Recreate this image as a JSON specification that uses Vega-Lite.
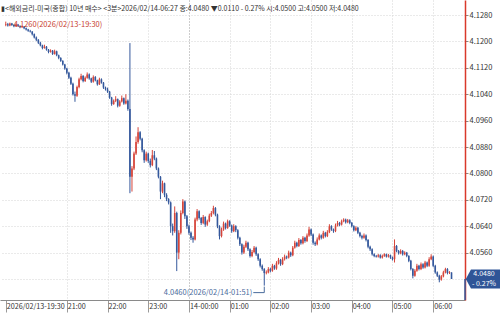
{
"$schema": "https://vega.github.io/schema/vega-lite/v6.json",
"width": 465, "height": 300,
"autosize": {"type": "none"},
"padding": {"left": 0, "top": 0, "right": 35, "bottom": 14},
"background": "white",
"config": {"view": {"stroke": null}, "font": "Noto Sans CJK KR",
  "axis": {"labelFont": "Noto Sans CJK KR", "labelFontSize": 7.5, "labelColor": "#333", "labelOverlap": false, "labelBound": false}},
"title": {"text": "▮<해외금리-미국(종합) 10년 매수> <3분>2026/02/14-06:27 종:4.0480 ▼0.0110 - 0.27% 시:4.0500 고:4.0500 저:4.0480",
  "anchor": "start", "frame": "group", "fontSize": 7, "fontWeight": "normal", "color": "#333", "baseline": "top", "offset": 0, "dy": 12, "dx": 1, "font": "Noto Sans CJK KR"},
"datasets": {
"bars": [
{"t":"2026-02-13T19:30","o":4.1250,"h":4.1260,"l":4.1246,"c":4.1252},
{"t":"2026-02-13T19:33","o":4.1252,"h":4.1256,"l":4.1245,"c":4.1248},
{"t":"2026-02-13T19:36","o":4.1248,"h":4.1257,"l":4.1246,"c":4.1254},
{"t":"2026-02-13T19:39","o":4.1254,"h":4.1256,"l":4.1247,"c":4.1250},
{"t":"2026-02-13T19:42","o":4.1250,"h":4.1252,"l":4.1243,"c":4.1246},
{"t":"2026-02-13T19:45","o":4.1246,"h":4.1254,"l":4.1244,"c":4.1251},
{"t":"2026-02-13T19:48","o":4.1251,"h":4.1253,"l":4.1244,"c":4.1247},
{"t":"2026-02-13T19:51","o":4.1247,"h":4.1249,"l":4.1240,"c":4.1243},
{"t":"2026-02-13T19:54","o":4.1243,"h":4.1248,"l":4.1241,"c":4.1245},
{"t":"2026-02-13T19:57","o":4.1245,"h":4.1246,"l":4.1237,"c":4.1240},
{"t":"2026-02-13T20:00","o":4.1240,"h":4.1242,"l":4.1233,"c":4.1236},
{"t":"2026-02-13T20:03","o":4.1236,"h":4.1238,"l":4.1229,"c":4.1232},
{"t":"2026-02-13T20:06","o":4.1232,"h":4.1235,"l":4.1227,"c":4.1230},
{"t":"2026-02-13T20:09","o":4.1230,"h":4.1231,"l":4.1218,"c":4.1222},
{"t":"2026-02-13T20:12","o":4.1222,"h":4.1224,"l":4.1209,"c":4.1212},
{"t":"2026-02-13T20:15","o":4.1212,"h":4.1215,"l":4.1201,"c":4.1205},
{"t":"2026-02-13T20:18","o":4.1205,"h":4.1207,"l":4.1192,"c":4.1196},
{"t":"2026-02-13T20:21","o":4.1196,"h":4.1199,"l":4.1185,"c":4.1188},
{"t":"2026-02-13T20:24","o":4.1188,"h":4.1190,"l":4.1176,"c":4.1180},
{"t":"2026-02-13T20:27","o":4.1180,"h":4.1190,"l":4.1178,"c":4.1184},
{"t":"2026-02-13T20:30","o":4.1184,"h":4.1186,"l":4.1172,"c":4.1175},
{"t":"2026-02-13T20:33","o":4.1175,"h":4.1177,"l":4.1164,"c":4.1168},
{"t":"2026-02-13T20:36","o":4.1168,"h":4.1176,"l":4.1166,"c":4.1172},
{"t":"2026-02-13T20:39","o":4.1172,"h":4.1174,"l":4.1159,"c":4.1162},
{"t":"2026-02-13T20:42","o":4.1162,"h":4.1175,"l":4.1160,"c":4.1170},
{"t":"2026-02-13T20:45","o":4.1170,"h":4.1172,"l":4.1155,"c":4.1158},
{"t":"2026-02-13T20:48","o":4.1158,"h":4.1160,"l":4.1146,"c":4.1150},
{"t":"2026-02-13T20:51","o":4.1150,"h":4.1152,"l":4.1138,"c":4.1141},
{"t":"2026-02-13T20:54","o":4.1141,"h":4.1143,"l":4.1127,"c":4.1130},
{"t":"2026-02-13T20:57","o":4.1130,"h":4.1132,"l":4.1114,"c":4.1118},
{"t":"2026-02-13T21:00","o":4.1118,"h":4.1120,"l":4.1100,"c":4.1105},
{"t":"2026-02-13T21:03","o":4.1105,"h":4.1108,"l":4.1086,"c":4.1090},
{"t":"2026-02-13T21:06","o":4.1090,"h":4.1093,"l":4.1068,"c":4.1072},
{"t":"2026-02-13T21:09","o":4.1072,"h":4.1075,"l":4.1036,"c":4.1040},
{"t":"2026-02-13T21:12","o":4.1040,"h":4.1048,"l":4.1017,"c":4.1035},
{"t":"2026-02-13T21:15","o":4.1035,"h":4.1066,"l":4.1032,"c":4.1062},
{"t":"2026-02-13T21:18","o":4.1062,"h":4.1090,"l":4.1058,"c":4.1085},
{"t":"2026-02-13T21:21","o":4.1085,"h":4.1102,"l":4.1082,"c":4.1095},
{"t":"2026-02-13T21:24","o":4.1095,"h":4.1098,"l":4.1076,"c":4.1080},
{"t":"2026-02-13T21:27","o":4.1080,"h":4.1094,"l":4.1077,"c":4.1090},
{"t":"2026-02-13T21:30","o":4.1090,"h":4.1106,"l":4.1087,"c":4.1100},
{"t":"2026-02-13T21:33","o":4.1100,"h":4.1103,"l":4.1084,"c":4.1088},
{"t":"2026-02-13T21:36","o":4.1088,"h":4.1090,"l":4.1074,"c":4.1078},
{"t":"2026-02-13T21:39","o":4.1078,"h":4.1097,"l":4.1075,"c":4.1092},
{"t":"2026-02-13T21:42","o":4.1092,"h":4.1095,"l":4.1079,"c":4.1082},
{"t":"2026-02-13T21:45","o":4.1082,"h":4.1084,"l":4.1066,"c":4.1070},
{"t":"2026-02-13T21:48","o":4.1070,"h":4.1090,"l":4.1068,"c":4.1085},
{"t":"2026-02-13T21:51","o":4.1085,"h":4.1088,"l":4.1072,"c":4.1075},
{"t":"2026-02-13T21:54","o":4.1075,"h":4.1077,"l":4.1056,"c":4.1060},
{"t":"2026-02-13T21:57","o":4.1060,"h":4.1063,"l":4.1051,"c":4.1055},
{"t":"2026-02-13T22:00","o":4.1055,"h":4.1060,"l":4.1044,"c":4.1048},
{"t":"2026-02-13T22:03","o":4.1048,"h":4.1050,"l":4.1026,"c":4.1030},
{"t":"2026-02-13T22:06","o":4.1030,"h":4.1032,"l":4.1005,"c":4.1010},
{"t":"2026-02-13T22:09","o":4.1010,"h":4.1024,"l":4.1008,"c":4.1020},
{"t":"2026-02-13T22:12","o":4.1020,"h":4.1034,"l":4.1016,"c":4.1025},
{"t":"2026-02-13T22:15","o":4.1025,"h":4.1027,"l":4.1000,"c":4.1005},
{"t":"2026-02-13T22:18","o":4.1005,"h":4.1022,"l":4.1002,"c":4.1018},
{"t":"2026-02-13T22:21","o":4.1018,"h":4.1036,"l":4.1015,"c":4.1028},
{"t":"2026-02-13T22:24","o":4.1028,"h":4.1030,"l":4.1008,"c":4.1012},
{"t":"2026-02-13T22:27","o":4.1012,"h":4.1040,"l":4.1009,"c":4.1020},
{"t":"2026-02-13T22:30","o":4.1020,"h":4.1024,"l":4.0990,"c":4.0995},
{"t":"2026-02-13T22:33","o":4.0995,"h":4.1195,"l":4.0740,"c":4.0790},
{"t":"2026-02-13T22:36","o":4.0790,"h":4.0822,"l":4.0745,"c":4.0815},
{"t":"2026-02-13T22:39","o":4.0815,"h":4.0866,"l":4.0810,"c":4.0860},
{"t":"2026-02-13T22:42","o":4.0860,"h":4.0912,"l":4.0856,"c":4.0895},
{"t":"2026-02-13T22:45","o":4.0895,"h":4.0940,"l":4.0890,"c":4.0925},
{"t":"2026-02-13T22:48","o":4.0925,"h":4.0928,"l":4.0900,"c":4.0905},
{"t":"2026-02-13T22:51","o":4.0905,"h":4.0908,"l":4.0864,"c":4.0870},
{"t":"2026-02-13T22:54","o":4.0870,"h":4.0873,"l":4.0832,"c":4.0840},
{"t":"2026-02-13T22:57","o":4.0840,"h":4.0866,"l":4.0836,"c":4.0860},
{"t":"2026-02-13T23:00","o":4.0860,"h":4.0863,"l":4.0832,"c":4.0838},
{"t":"2026-02-13T23:03","o":4.0838,"h":4.0845,"l":4.0818,"c":4.0825},
{"t":"2026-02-13T23:06","o":4.0825,"h":4.0871,"l":4.0822,"c":4.0855},
{"t":"2026-02-13T23:09","o":4.0855,"h":4.0868,"l":4.0840,"c":4.0845},
{"t":"2026-02-13T23:12","o":4.0845,"h":4.0848,"l":4.0810,"c":4.0815},
{"t":"2026-02-13T23:15","o":4.0815,"h":4.0818,"l":4.0785,"c":4.0790},
{"t":"2026-02-13T23:18","o":4.0790,"h":4.0792,"l":4.0722,"c":4.0745},
{"t":"2026-02-13T23:21","o":4.0745,"h":4.0778,"l":4.0740,"c":4.0770},
{"t":"2026-02-13T23:24","o":4.0770,"h":4.0772,"l":4.0728,"c":4.0735},
{"t":"2026-02-13T23:27","o":4.0735,"h":4.0740,"l":4.0716,"c":4.0722},
{"t":"2026-02-13T23:30","o":4.0722,"h":4.0725,"l":4.0706,"c":4.0712},
{"t":"2026-02-13T23:33","o":4.0712,"h":4.0715,"l":4.0620,"c":4.0640},
{"t":"2026-02-13T23:36","o":4.0640,"h":4.0648,"l":4.0612,"c":4.0625},
{"t":"2026-02-13T23:39","o":4.0625,"h":4.0700,"l":4.0620,"c":4.0680},
{"t":"2026-02-13T23:42","o":4.0680,"h":4.0684,"l":4.0504,"c":4.0560},
{"t":"2026-02-13T23:45","o":4.0560,"h":4.0628,"l":4.0540,"c":4.0620},
{"t":"2026-02-13T23:48","o":4.0620,"h":4.0688,"l":4.0615,"c":4.0680},
{"t":"2026-02-13T23:51","o":4.0680,"h":4.0722,"l":4.0676,"c":4.0715},
{"t":"2026-02-13T23:54","o":4.0715,"h":4.0718,"l":4.0662,"c":4.0670},
{"t":"2026-02-13T23:57","o":4.0670,"h":4.0674,"l":4.0632,"c":4.0640},
{"t":"2026-02-14T00:00","o":4.0640,"h":4.0645,"l":4.0614,"c":4.0620},
{"t":"2026-02-14T00:03","o":4.0620,"h":4.0624,"l":4.0598,"c":4.0605},
{"t":"2026-02-14T00:06","o":4.0605,"h":4.0610,"l":4.0590,"c":4.0600},
{"t":"2026-02-14T00:09","o":4.0600,"h":4.0666,"l":4.0597,"c":4.0660},
{"t":"2026-02-14T00:12","o":4.0660,"h":4.0692,"l":4.0655,"c":4.0685},
{"t":"2026-02-14T00:15","o":4.0685,"h":4.0688,"l":4.0660,"c":4.0665},
{"t":"2026-02-14T00:18","o":4.0665,"h":4.0668,"l":4.0644,"c":4.0650},
{"t":"2026-02-14T00:21","o":4.0650,"h":4.0674,"l":4.0646,"c":4.0668},
{"t":"2026-02-14T00:24","o":4.0668,"h":4.0670,"l":4.0638,"c":4.0645},
{"t":"2026-02-14T00:27","o":4.0645,"h":4.0660,"l":4.0641,"c":4.0655},
{"t":"2026-02-14T00:30","o":4.0655,"h":4.0678,"l":4.0652,"c":4.0672},
{"t":"2026-02-14T00:33","o":4.0672,"h":4.0686,"l":4.0668,"c":4.0680},
{"t":"2026-02-14T00:36","o":4.0680,"h":4.0702,"l":4.0676,"c":4.0695},
{"t":"2026-02-14T00:39","o":4.0695,"h":4.0698,"l":4.0670,"c":4.0675},
{"t":"2026-02-14T00:42","o":4.0675,"h":4.0678,"l":4.0634,"c":4.0640},
{"t":"2026-02-14T00:45","o":4.0640,"h":4.0643,"l":4.0600,"c":4.0610},
{"t":"2026-02-14T00:48","o":4.0610,"h":4.0636,"l":4.0606,"c":4.0630},
{"t":"2026-02-14T00:51","o":4.0630,"h":4.0654,"l":4.0626,"c":4.0648},
{"t":"2026-02-14T00:54","o":4.0648,"h":4.0651,"l":4.0630,"c":4.0635},
{"t":"2026-02-14T00:57","o":4.0635,"h":4.0660,"l":4.0632,"c":4.0655},
{"t":"2026-02-14T01:00","o":4.0655,"h":4.0658,"l":4.0638,"c":4.0642},
{"t":"2026-02-14T01:03","o":4.0642,"h":4.0645,"l":4.0620,"c":4.0625},
{"t":"2026-02-14T01:06","o":4.0625,"h":4.0646,"l":4.0622,"c":4.0640},
{"t":"2026-02-14T01:09","o":4.0640,"h":4.0643,"l":4.0622,"c":4.0628},
{"t":"2026-02-14T01:12","o":4.0628,"h":4.0631,"l":4.0600,"c":4.0605},
{"t":"2026-02-14T01:15","o":4.0605,"h":4.0608,"l":4.0580,"c":4.0585},
{"t":"2026-02-14T01:18","o":4.0585,"h":4.0588,"l":4.0554,"c":4.0560},
{"t":"2026-02-14T01:21","o":4.0560,"h":4.0584,"l":4.0556,"c":4.0578},
{"t":"2026-02-14T01:24","o":4.0578,"h":4.0596,"l":4.0574,"c":4.0590},
{"t":"2026-02-14T01:27","o":4.0590,"h":4.0593,"l":4.0565,"c":4.0570},
{"t":"2026-02-14T01:30","o":4.0570,"h":4.0573,"l":4.0545,"c":4.0550},
{"t":"2026-02-14T01:33","o":4.0550,"h":4.0568,"l":4.0546,"c":4.0562},
{"t":"2026-02-14T01:36","o":4.0562,"h":4.0580,"l":4.0558,"c":4.0575},
{"t":"2026-02-14T01:39","o":4.0575,"h":4.0578,"l":4.0550,"c":4.0555},
{"t":"2026-02-14T01:42","o":4.0555,"h":4.0558,"l":4.0535,"c":4.0540},
{"t":"2026-02-14T01:45","o":4.0540,"h":4.0543,"l":4.0515,"c":4.0520},
{"t":"2026-02-14T01:48","o":4.0520,"h":4.0524,"l":4.0505,"c":4.0510},
{"t":"2026-02-14T01:51","o":4.0510,"h":4.0513,"l":4.0460,"c":4.0498},
{"t":"2026-02-14T01:54","o":4.0498,"h":4.0506,"l":4.0494,"c":4.0500},
{"t":"2026-02-14T01:57","o":4.0500,"h":4.0516,"l":4.0497,"c":4.0510},
{"t":"2026-02-14T02:00","o":4.0510,"h":4.0514,"l":4.0500,"c":4.0505},
{"t":"2026-02-14T02:03","o":4.0505,"h":4.0526,"l":4.0502,"c":4.0520},
{"t":"2026-02-14T02:06","o":4.0520,"h":4.0523,"l":4.0508,"c":4.0512},
{"t":"2026-02-14T02:09","o":4.0512,"h":4.0534,"l":4.0508,"c":4.0528},
{"t":"2026-02-14T02:12","o":4.0528,"h":4.0544,"l":4.0524,"c":4.0538},
{"t":"2026-02-14T02:15","o":4.0538,"h":4.0541,"l":4.0520,"c":4.0525},
{"t":"2026-02-14T02:18","o":4.0525,"h":4.0546,"l":4.0522,"c":4.0540},
{"t":"2026-02-14T02:21","o":4.0540,"h":4.0554,"l":4.0536,"c":4.0548},
{"t":"2026-02-14T02:24","o":4.0548,"h":4.0551,"l":4.0540,"c":4.0545},
{"t":"2026-02-14T02:27","o":4.0545,"h":4.0566,"l":4.0542,"c":4.0560},
{"t":"2026-02-14T02:30","o":4.0560,"h":4.0563,"l":4.0547,"c":4.0552},
{"t":"2026-02-14T02:33","o":4.0552,"h":4.0580,"l":4.0549,"c":4.0575},
{"t":"2026-02-14T02:36","o":4.0575,"h":4.0596,"l":4.0572,"c":4.0590},
{"t":"2026-02-14T02:39","o":4.0590,"h":4.0593,"l":4.0576,"c":4.0580},
{"t":"2026-02-14T02:42","o":4.0580,"h":4.0604,"l":4.0577,"c":4.0598},
{"t":"2026-02-14T02:45","o":4.0598,"h":4.0601,"l":4.0584,"c":4.0588},
{"t":"2026-02-14T02:48","o":4.0588,"h":4.0610,"l":4.0585,"c":4.0605},
{"t":"2026-02-14T02:51","o":4.0605,"h":4.0608,"l":4.0590,"c":4.0595},
{"t":"2026-02-14T02:54","o":4.0595,"h":4.0618,"l":4.0592,"c":4.0612},
{"t":"2026-02-14T02:57","o":4.0612,"h":4.0638,"l":4.0608,"c":4.0630},
{"t":"2026-02-14T03:00","o":4.0630,"h":4.0633,"l":4.0610,"c":4.0615},
{"t":"2026-02-14T03:03","o":4.0615,"h":4.0618,"l":4.0584,"c":4.0590},
{"t":"2026-02-14T03:06","o":4.0590,"h":4.0594,"l":4.0580,"c":4.0585},
{"t":"2026-02-14T03:09","o":4.0585,"h":4.0606,"l":4.0582,"c":4.0600},
{"t":"2026-02-14T03:12","o":4.0600,"h":4.0618,"l":4.0597,"c":4.0612},
{"t":"2026-02-14T03:15","o":4.0612,"h":4.0615,"l":4.0600,"c":4.0605},
{"t":"2026-02-14T03:18","o":4.0605,"h":4.0626,"l":4.0602,"c":4.0620},
{"t":"2026-02-14T03:21","o":4.0620,"h":4.0623,"l":4.0606,"c":4.0610},
{"t":"2026-02-14T03:24","o":4.0610,"h":4.0628,"l":4.0607,"c":4.0622},
{"t":"2026-02-14T03:27","o":4.0622,"h":4.0646,"l":4.0619,"c":4.0640},
{"t":"2026-02-14T03:30","o":4.0640,"h":4.0643,"l":4.0626,"c":4.0630},
{"t":"2026-02-14T03:33","o":4.0630,"h":4.0633,"l":4.0620,"c":4.0625},
{"t":"2026-02-14T03:36","o":4.0625,"h":4.0648,"l":4.0622,"c":4.0642},
{"t":"2026-02-14T03:39","o":4.0642,"h":4.0656,"l":4.0639,"c":4.0650},
{"t":"2026-02-14T03:42","o":4.0650,"h":4.0653,"l":4.0640,"c":4.0645},
{"t":"2026-02-14T03:45","o":4.0645,"h":4.0660,"l":4.0642,"c":4.0655},
{"t":"2026-02-14T03:48","o":4.0655,"h":4.0664,"l":4.0652,"c":4.0660},
{"t":"2026-02-14T03:51","o":4.0660,"h":4.0663,"l":4.0648,"c":4.0652},
{"t":"2026-02-14T03:54","o":4.0652,"h":4.0662,"l":4.0649,"c":4.0658},
{"t":"2026-02-14T03:57","o":4.0658,"h":4.0661,"l":4.0646,"c":4.0650},
{"t":"2026-02-14T04:00","o":4.0650,"h":4.0653,"l":4.0636,"c":4.0640},
{"t":"2026-02-14T04:03","o":4.0640,"h":4.0643,"l":4.0624,"c":4.0628},
{"t":"2026-02-14T04:06","o":4.0628,"h":4.0640,"l":4.0625,"c":4.0635},
{"t":"2026-02-14T04:09","o":4.0635,"h":4.0638,"l":4.0616,"c":4.0620},
{"t":"2026-02-14T04:12","o":4.0620,"h":4.0623,"l":4.0606,"c":4.0610},
{"t":"2026-02-14T04:15","o":4.0610,"h":4.0614,"l":4.0600,"c":4.0605},
{"t":"2026-02-14T04:18","o":4.0605,"h":4.0618,"l":4.0602,"c":4.0612},
{"t":"2026-02-14T04:21","o":4.0612,"h":4.0615,"l":4.0594,"c":4.0598},
{"t":"2026-02-14T04:24","o":4.0598,"h":4.0601,"l":4.0573,"c":4.0578},
{"t":"2026-02-14T04:27","o":4.0578,"h":4.0581,"l":4.0565,"c":4.0570},
{"t":"2026-02-14T04:30","o":4.0570,"h":4.0573,"l":4.0551,"c":4.0555},
{"t":"2026-02-14T04:33","o":4.0555,"h":4.0558,"l":4.0546,"c":4.0550},
{"t":"2026-02-14T04:36","o":4.0550,"h":4.0553,"l":4.0545,"c":4.0548},
{"t":"2026-02-14T04:39","o":4.0548,"h":4.0556,"l":4.0545,"c":4.0552},
{"t":"2026-02-14T04:42","o":4.0552,"h":4.0555,"l":4.0542,"c":4.0545},
{"t":"2026-02-14T04:45","o":4.0545,"h":4.0554,"l":4.0542,"c":4.0550},
{"t":"2026-02-14T04:48","o":4.0550,"h":4.0558,"l":4.0547,"c":4.0555},
{"t":"2026-02-14T04:51","o":4.0555,"h":4.0557,"l":4.0545,"c":4.0548},
{"t":"2026-02-14T04:54","o":4.0548,"h":4.0556,"l":4.0545,"c":4.0552},
{"t":"2026-02-14T04:57","o":4.0552,"h":4.0554,"l":4.0541,"c":4.0545},
{"t":"2026-02-14T05:00","o":4.0545,"h":4.0548,"l":4.0536,"c":4.0540},
{"t":"2026-02-14T05:03","o":4.0540,"h":4.0600,"l":4.0530,"c":4.0580},
{"t":"2026-02-14T05:06","o":4.0580,"h":4.0583,"l":4.0561,"c":4.0565},
{"t":"2026-02-14T05:09","o":4.0565,"h":4.0568,"l":4.0554,"c":4.0558},
{"t":"2026-02-14T05:12","o":4.0558,"h":4.0570,"l":4.0555,"c":4.0565},
{"t":"2026-02-14T05:15","o":4.0565,"h":4.0568,"l":4.0551,"c":4.0555},
{"t":"2026-02-14T05:18","o":4.0555,"h":4.0564,"l":4.0552,"c":4.0560},
{"t":"2026-02-14T05:21","o":4.0560,"h":4.0562,"l":4.0546,"c":4.0550},
{"t":"2026-02-14T05:24","o":4.0550,"h":4.0552,"l":4.0531,"c":4.0535},
{"t":"2026-02-14T05:27","o":4.0535,"h":4.0538,"l":4.0506,"c":4.0510},
{"t":"2026-02-14T05:30","o":4.0510,"h":4.0513,"l":4.0482,"c":4.0490},
{"t":"2026-02-14T05:33","o":4.0490,"h":4.0510,"l":4.0487,"c":4.0505},
{"t":"2026-02-14T05:36","o":4.0505,"h":4.0526,"l":4.0502,"c":4.0520},
{"t":"2026-02-14T05:39","o":4.0520,"h":4.0523,"l":4.0506,"c":4.0510},
{"t":"2026-02-14T05:42","o":4.0510,"h":4.0530,"l":4.0507,"c":4.0525},
{"t":"2026-02-14T05:45","o":4.0525,"h":4.0528,"l":4.0511,"c":4.0515},
{"t":"2026-02-14T05:48","o":4.0515,"h":4.0535,"l":4.0512,"c":4.0530},
{"t":"2026-02-14T05:51","o":4.0530,"h":4.0533,"l":4.0516,"c":4.0520},
{"t":"2026-02-14T05:54","o":4.0520,"h":4.0546,"l":4.0517,"c":4.0540},
{"t":"2026-02-14T05:57","o":4.0540,"h":4.0555,"l":4.0537,"c":4.0548},
{"t":"2026-02-14T06:00","o":4.0548,"h":4.0551,"l":4.0516,"c":4.0520},
{"t":"2026-02-14T06:03","o":4.0520,"h":4.0523,"l":4.0496,"c":4.0500},
{"t":"2026-02-14T06:06","o":4.0500,"h":4.0503,"l":4.0486,"c":4.0490},
{"t":"2026-02-14T06:09","o":4.0490,"h":4.0493,"l":4.0470,"c":4.0478},
{"t":"2026-02-14T06:12","o":4.0478,"h":4.0492,"l":4.0475,"c":4.0488},
{"t":"2026-02-14T06:15","o":4.0488,"h":4.0505,"l":4.0485,"c":4.0500},
{"t":"2026-02-14T06:18","o":4.0500,"h":4.0514,"l":4.0497,"c":4.0510},
{"t":"2026-02-14T06:21","o":4.0510,"h":4.0513,"l":4.0494,"c":4.0498},
{"t":"2026-02-14T06:24","o":4.0498,"h":4.0504,"l":4.0495,"c":4.0500},
{"t":"2026-02-14T06:27","o":4.0500,"h":4.0500,"l":4.0480,"c":4.0480}
],
"last": [{"c": 4.0480, "pct": "- 0.27%"}]
},
"layer": [
{
 "data": {"name": "bars"},
 "mark": {"type": "rule", "strokeWidth": 1},
 "encoding": {
  "x": {"field": "t", "type": "temporal",
   "scale": {"domain": [{"year":2026,"month":2,"date":13,"hours":19,"minutes":28,"seconds":51},{"year":2026,"month":2,"date":14,"hours":6,"minutes":39,"seconds":30}]},
   "axis": {"title": null, "tickCount": 30,
    "values": [{"year":2026,"month":2,"date":13,"hours":19,"minutes":30},{"year":2026,"month":2,"date":13,"hours":21},{"year":2026,"month":2,"date":13,"hours":22},{"year":2026,"month":2,"date":13,"hours":23},{"year":2026,"month":2,"date":14,"hours":0},{"year":2026,"month":2,"date":14,"hours":1},{"year":2026,"month":2,"date":14,"hours":2},{"year":2026,"month":2,"date":14,"hours":3},{"year":2026,"month":2,"date":14,"hours":4},{"year":2026,"month":2,"date":14,"hours":5},{"year":2026,"month":2,"date":14,"hours":6}],
    "labelExpr": "timeFormat(datum.value,'%H:%M')=='19:30' ? '2026/02/13-19:30' : (timeFormat(datum.value,'%H:%M')=='00:00' ? '14-00:00' : timeFormat(datum.value,'%H:%M'))",
    "labelAlign": "left", "labelOffset": 0.5, "labelBaseline": "top", "labelPadding": -10, "labelFlush": false, "labelOverlap": false, "labelFontSize": 7.2,
    "tickSize": 12, "tickColor": "#9a9a9a", "domainColor": "#8a8a8a",
    "grid": true, "gridDash": [1, 2],
    "gridColor": {"condition": {"test": "timeFormat(datum.value,'%H')=='00'", "value": "#9a9a9a"}, "value": "#d4d4d4"},
    "gridOpacity": {"condition": {"test": "timeFormat(datum.value,'%H:%M')=='19:30'", "value": 0}, "value": 1}}},
  "y": {"field": "l", "type": "quantitative",
   "scale": {"domain": [4.04164, 4.13255], "nice": false, "zero": false},
   "axis": {"title": null, "orient": "right", "tickCount": 30,
    "values": [4.128, 4.12, 4.112, 4.104, 4.096, 4.088, 4.08, 4.072, 4.064, 4.056, 4.048],
    "format": ".4f", "labelExpr": "datum.value < 4.05 ? '' : datum.label", "labelOverlap": false, "labelBound": false,
    "tickSize": 3, "tickColor": "#888", "labelPadding": 1, "labelBaseline": "middle",
    "domainColor": "#d9392b", "domainWidth": 1.5,
    "grid": true, "gridDash": [1, 2], "gridColor": "#d4d4d4"}},
  "y2": {"field": "h"},
  "color": {"condition": {"test": "datum.c >= datum.o", "value": "#d6453a"}, "value": "#34589c"}
 }
},
{
 "data": {"name": "bars"},
 "mark": {"type": "bar", "width": 1.6},
 "encoding": {
  "x": {"field": "t", "type": "temporal"},
  "y": {"field": "o", "type": "quantitative"},
  "y2": {"field": "c"},
  "color": {"condition": {"test": "datum.c >= datum.o", "value": "#d6453a"}, "value": "#34589c"}
 }
},
{
 "data": {"values": [{"t": "2026-02-13T19:30", "p": 4.1260, "label": "4.1260(2026/02/13-19:30)"}]},
 "mark": {"type": "text", "align": "left", "baseline": "middle", "dx": 8, "dy": 3, "fontSize": 7.5, "color": "#c8412f"},
 "encoding": {"x": {"field": "t", "type": "temporal"}, "y": {"field": "p", "type": "quantitative"}, "text": {"field": "label"}}
},
{
 "data": {"values": [{"t": "2026-02-14T01:51", "p": 4.0460, "label": "4.0460(2026/02/14-01:51)"}]},
 "layer": [
  {"mark": {"type": "text", "align": "right", "baseline": "middle", "dx": -12, "dy": 7, "fontSize": 7.5, "color": "#4a6b9c"},
   "encoding": {"x": {"field": "t", "type": "temporal"}, "y": {"field": "p", "type": "quantitative"}, "text": {"field": "label"}}},
  {"mark": {"type": "rule", "color": "#4a6b9c", "xOffset": -11, "x2Offset": 0, "yOffset": 7, "strokeWidth": 1},
   "encoding": {"x": {"field": "t", "type": "temporal"}, "x2": {"field": "t"}, "y": {"field": "p", "type": "quantitative"}}},
  {"mark": {"type": "rule", "color": "#4a6b9c", "yOffset": 7, "y2Offset": 1, "strokeWidth": 1},
   "encoding": {"x": {"field": "t", "type": "temporal"}, "y": {"field": "p", "type": "quantitative"}, "y2": {"field": "p"}}}
 ]
},
{
 "data": {"name": "last"},
 "layer": [
  {"mark": {"type": "rule", "color": "#34589c", "strokeWidth": 1.5},
   "encoding": {"x": {"value": "width"}, "y": {"field": "c", "type": "quantitative"}, "y2": {"value": "height"}}},
  {"mark": {"type": "point", "filled": true, "opacity": 1, "color": "#2f5597", "shape": "M0.05,0L0.35,-0.56L2.1,-0.56L2.1,0.56L0.35,0.56Z", "size": 1156, "clip": false},
   "encoding": {"x": {"value": "width"}, "y": {"field": "c", "type": "quantitative"}}},
  {"mark": {"type": "text", "align": "center", "baseline": "middle", "dx": 19, "dy": -4.6, "fontSize": 7, "color": "white"},
   "encoding": {"x": {"value": "width"}, "y": {"field": "c", "type": "quantitative"}, "text": {"field": "c", "format": ".4f"}}},
  {"mark": {"type": "text", "align": "center", "baseline": "middle", "dx": 19, "dy": 4.6, "fontSize": 7, "color": "white"},
   "encoding": {"x": {"value": "width"}, "y": {"field": "c", "type": "quantitative"}, "text": {"field": "pct"}}}
 ]
}
]
}
